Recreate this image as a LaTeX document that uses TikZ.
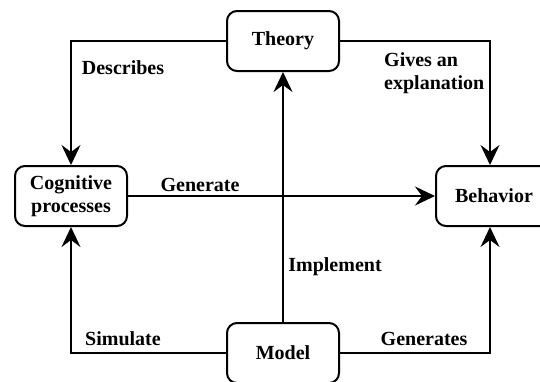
\documentclass[tikz,border=0pt]{standalone}
\usepackage{fontspec}
\setmainfont{Liberation Serif}
\usetikzlibrary{arrows.meta}
\begin{document}
\begin{tikzpicture}[x=1pt,y=-1pt,
  box/.style={draw,line width=2pt,rounded corners=10pt,align=center,inner sep=0pt},
  lbl/.style={font=\bfseries\fontsize{20}{23}\selectfont,inner sep=0pt},
  link/.style={line width=2pt,-{Stealth[length=20pt,width=19pt,inset=7pt]}}]
\useasboundingbox (0,0) rectangle (540,381);
\clip (0,0) rectangle (540,381);
\fill[white] (0,0) rectangle (540,381);
% boxes
\node[box,lbl,minimum width=112pt,minimum height=60pt] (theory) at (283,41) {Theory};
\node[box,lbl,minimum width=112pt,minimum height=60pt] (cog) at (71,196) {Cognitive\\processes};
\node[box,lbl,minimum width=116pt,minimum height=60pt] (beh) at (494,196) {Behavior};
\node[box,lbl,minimum width=112pt,minimum height=60pt] (model) at (283,353) {Model};
% column of the vertical connectors on the right
\coordinate (rcol) at (490,0);
% connectors
\draw[link] (theory.west) -| (cog.north);
\draw[link] (theory.east) -| (rcol |- beh.north);
\draw[link] (cog.east |- beh.west) -- (beh.west);
\draw[link] (model.north) -- (theory.south);
\draw[link] (model.west) -| (cog.south);
\draw[link] (model.east) -| (rcol |- beh.south);
% labels
\node[lbl] (l1) at (123,68) {Describes};
\node[lbl,align=left,anchor=west] (l2) at (384,73.5) {Gives an\\explanation};
\node[lbl] (l3) at (200,185) {Generate};
\node[lbl] (l4) at (335,267) {Implement};
\node[lbl] (l5) at (123,339) {Simulate};
\node[lbl] (l6) at (424,339) {Generates};
\end{tikzpicture}
\end{document}
